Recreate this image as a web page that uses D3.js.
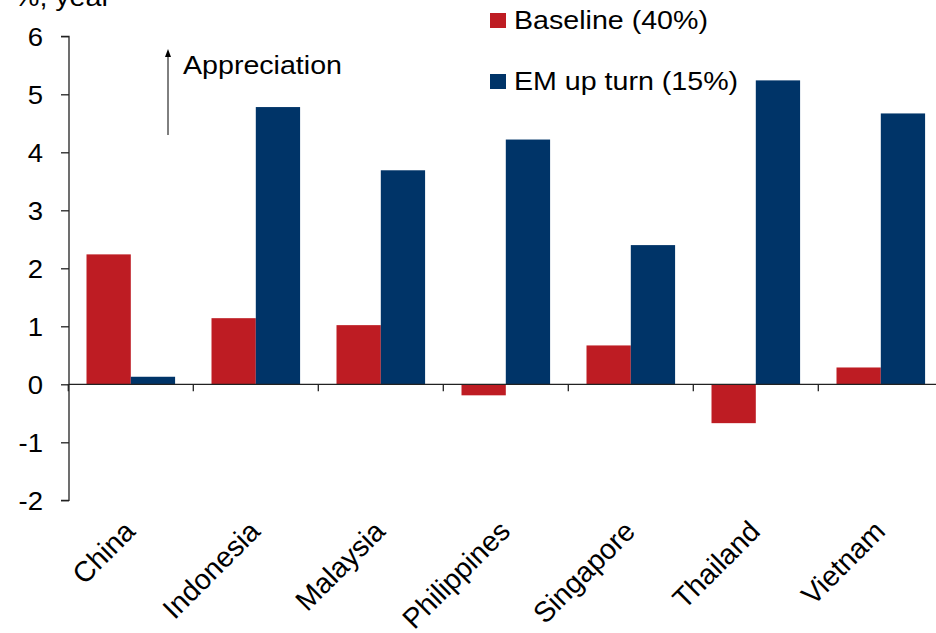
<!DOCTYPE html>
<html>
<head>
<meta charset="utf-8">
<script src="https://cdn.jsdelivr.net/npm/d3@7"></script>
<style>
  html, body { margin: 0; padding: 0; background: #fff; }
  svg { display: block; font-family: "Liberation Sans", Arial, sans-serif; }
</style>
</head>
<body>
<svg id="chart" width="936" height="633"></svg>
<script>
// Currency change forecasts by scenario, % per year
const countries = ["China", "Indonesia", "Malaysia", "Philippines", "Singapore", "Thailand", "Vietnam"];
const seriesNames = ["Baseline (40%)", "EM up turn (15%)"];
const baseline = [2.24, 1.14, 1.02, -0.19, 0.67, -0.67, 0.29];
const emUpTurn = [0.13, 4.78, 3.69, 4.22, 2.40, 5.24, 4.67];
const yTicks = [-2, -1, 0, 1, 2, 3, 4, 5, 6];
const colors = ["#BE1C23", "#003468"];

const svg = d3.select("#chart");
const W = 936;
const SX = 1.1; // slightly wide lettering

const y = d3.scaleLinear().domain([-2, 6]).range([500.3, 36.3]);
const x0 = d3.scaleBand().domain(countries).range([68.3, 943.3]).paddingInner(0).paddingOuter(0);
const x1 = d3.scaleBand().domain(seriesNames).range([0, x0.bandwidth()]).paddingInner(0).paddingOuter(0.411);

const rows = countries.map((c, i) => ({ country: c, values: [baseline[i], emUpTurn[i]] }));

// Bars
const groups = svg.append("g").selectAll("g").data(rows).join("g")
  .attr("transform", d => `translate(${x0(d.country)},0)`);
groups.selectAll("rect")
  .data(d => d.values.map((v, k) => ({ key: seriesNames[k], v, k })))
  .join("rect")
  .attr("x", d => x1(d.key))
  .attr("width", x1.bandwidth())
  .attr("y", d => y(Math.max(0, d.v)))
  .attr("height", d => Math.abs(y(d.v) - y(0)))
  .attr("fill", d => colors[d.k]);

// Y axis
const yAxis = d3.axisLeft(y).tickValues(yTicks).tickSize(8).tickPadding(0).tickFormat(d => String(d));
const gy = svg.append("g").attr("transform", "translate(69,0)").call(yAxis);
gy.select(".domain").attr("stroke", "#222").attr("stroke-width", 1.3).attr("d", `M-8,${y(6)}H0V${y(-2)}H-8`);
gy.selectAll(".tick line").attr("stroke", "#222").attr("stroke-width", 1.3);
gy.selectAll(".tick text")
  .attr("x", null).attr("dy", null)
  .attr("transform", `translate(-26,9) scale(${SX},1)`)
  .attr("font-size", 25).attr("fill", "#000")
  .attr("font-family", "'Liberation Sans', Arial, sans-serif");

// Zero line with category separators
const gx = svg.append("g");
gx.append("line").attr("x1", 69).attr("x2", W).attr("y1", y(0)).attr("y2", y(0))
  .attr("stroke", "#222").attr("stroke-width", 1.3);
countries.forEach(c => {
  const bx = x0(c);
  gx.append("line").attr("x1", bx).attr("x2", bx).attr("y1", y(0)).attr("y2", y(0) + 7)
    .attr("stroke", "#222").attr("stroke-width", 1.3);
});

// Category labels, rotated
svg.append("g").selectAll("text").data(countries).join("text")
  .attr("transform", d => `translate(${x0(d) + x0.bandwidth() / 2 + 6},533) rotate(-45)`)
  .attr("text-anchor", "end")
  .attr("font-size", 28.5)
  .attr("fill", "#000")
  .text(d => d);

// Axis unit
svg.append("text").attr("transform", `translate(14,6) scale(${SX},1)`)
  .attr("font-size", 26).attr("fill", "#000").text("%, year");

// Direction note
svg.append("line").attr("x1", 168).attr("x2", 168).attr("y1", 135).attr("y2", 56)
  .attr("stroke", "#000").attr("stroke-width", 1);
svg.append("path").attr("d", "M165,57L168,49L171,57Z").attr("fill", "#000");
svg.append("text").attr("transform", `translate(183,74) scale(${SX},1)`)
  .attr("font-size", 26).attr("fill", "#000").text("Appreciation");

// Legend
const legend = svg.append("g");
const legendY = [13, 74];
seriesNames.forEach((s, k) => {
  legend.append("rect").attr("x", 490).attr("y", legendY[k]).attr("width", 16).attr("height", 15).attr("fill", colors[k]);
  legend.append("text").attr("transform", `translate(514,${legendY[k] + 16}) scale(${SX},1)`)
    .attr("font-size", 26).attr("fill", "#000").text(s);
});
</script>
</body>
</html>
